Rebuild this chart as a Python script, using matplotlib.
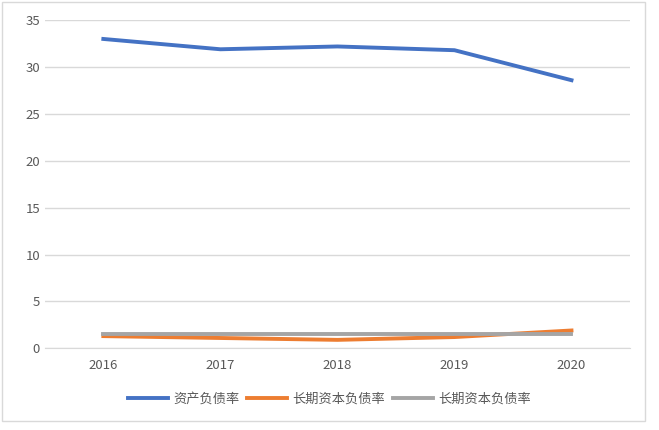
import matplotlib
matplotlib.use("Agg")
import matplotlib.pyplot as plt

plt.rcParams['font.family'] = ['Noto Sans CJK SC', 'DejaVu Sans']

years = ["2016", "2017", "2018", "2019", "2020"]
asset_debt = [33.0, 31.9, 32.2, 31.8, 28.6]
lt_capital_debt = [1.3, 1.1, 0.9, 1.2, 1.9]
lt_capital_debt2 = [1.5, 1.5, 1.5, 1.5, 1.5]

fig = plt.figure(figsize=(6.59, 4.30), dpi=100)
ax = fig.add_axes([0.068, 0.19, 0.888, 0.763])
x = range(len(years))
ax.plot(x, asset_debt, color='#4472C4', lw=2.8, label='资产负债率')
ax.plot(x, lt_capital_debt, color='#ED7D31', lw=2.8, label='长期资本负债率')
ax.plot(x, lt_capital_debt2, color='#A5A5A5', lw=2.8, label='长期资本负债率')
ax.set_xlim(-0.5, 4.5)
ax.set_ylim(0, 35)
ax.set_yticks(range(0, 36, 5))
ax.set_xticks(list(x))
ax.set_xticklabels(years)
ax.grid(axis='y', color='#D9D9D9', lw=1)
ax.set_axisbelow(True)
for s in ['top', 'right', 'left']:
    ax.spines[s].set_visible(False)
ax.spines['bottom'].set_color('#D9D9D9')
ax.tick_params(length=0, colors='#595959', labelsize=9.5)
ax.tick_params(axis='x', pad=8)
fig.legend(loc='lower center', ncol=3, frameon=False, bbox_to_anchor=(0.5, 0.03),
           fontsize=9.5, labelcolor='#595959', handlelength=3.0, handletextpad=0.4,
           columnspacing=0.6)
fig.patches.append(plt.Rectangle((0.003, 0.02), 0.975, 0.975, transform=fig.transFigure,
                                 fill=False, edgecolor='#D9D9D9', lw=1))
fig.savefig('out.png')
